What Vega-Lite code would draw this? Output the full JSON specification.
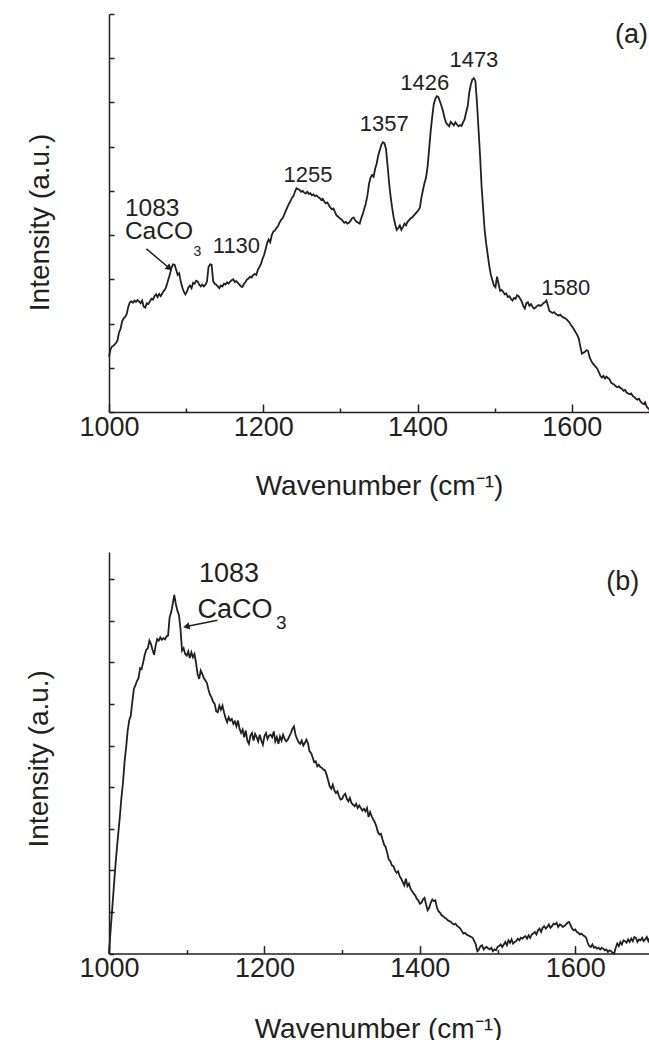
{
"$schema":"https://vega.github.io/schema/vega-lite/v6.json",
"background":"white",
"padding":{"left":25,"top":13,"right":0,"bottom":0},
"spacing":140,
"bounds":"flush",
"config":{"view":{"stroke":null},"font":"Liberation Sans",
"axis":{"grid":false,"domainColor":"#231f20","tickColor":"#231f20","labelColor":"#231f20","titleColor":"#231f20","domainWidth":1.5,"tickWidth":1.5,"labelFont":"Liberation Sans","titleFont":"Liberation Sans","titleFontWeight":"normal","labelFontSize":27,"titleFontSize":28},
"text":{"color":"#231f20","font":"Liberation Sans"}},
"datasets":{
"specA":[{"w":1000,"i":1.25},{"w":1002,"i":1.42},{"w":1004,"i":1.48},{"w":1006,"i":1.5},{"w":1009,"i":1.56},{"w":1011,"i":1.62},{"w":1013,"i":1.8},{"w":1015,"i":1.88},{"w":1017,"i":2.05},{"w":1019,"i":2.12},{"w":1021,"i":2.15},{"w":1023,"i":2.22},{"w":1025,"i":2.38},{"w":1027,"i":2.48},{"w":1029,"i":2.5},{"w":1031,"i":2.47},{"w":1033,"i":2.52},{"w":1035,"i":2.49},{"w":1037,"i":2.53},{"w":1039,"i":2.5},{"w":1041,"i":2.46},{"w":1043,"i":2.52},{"w":1045,"i":2.38},{"w":1047,"i":2.36},{"w":1049,"i":2.46},{"w":1051,"i":2.44},{"w":1053,"i":2.5},{"w":1055,"i":2.56},{"w":1057,"i":2.54},{"w":1059,"i":2.62},{"w":1061,"i":2.66},{"w":1063,"i":2.6},{"w":1065,"i":2.67},{"w":1067,"i":2.62},{"w":1069,"i":2.68},{"w":1071,"i":2.74},{"w":1073,"i":2.78},{"w":1075,"i":2.88},{"w":1077,"i":3.0},{"w":1079,"i":3.12},{"w":1081,"i":3.26},{"w":1083,"i":3.34},{"w":1085,"i":3.33},{"w":1087,"i":3.22},{"w":1089,"i":3.1},{"w":1091,"i":3.14},{"w":1093,"i":2.95},{"w":1095,"i":2.82},{"w":1097,"i":2.72},{"w":1099,"i":2.66},{"w":1101,"i":2.72},{"w":1103,"i":2.82},{"w":1105,"i":2.86},{"w":1107,"i":2.8},{"w":1109,"i":2.92},{"w":1111,"i":2.9},{"w":1113,"i":2.97},{"w":1115,"i":2.95},{"w":1117,"i":2.88},{"w":1119,"i":2.84},{"w":1121,"i":2.88},{"w":1123,"i":2.84},{"w":1125,"i":2.88},{"w":1127,"i":2.95},{"w":1129,"i":3.28},{"w":1131,"i":3.34},{"w":1133,"i":3.33},{"w":1135,"i":2.96},{"w":1137,"i":2.9},{"w":1139,"i":2.88},{"w":1141,"i":2.84},{"w":1143,"i":2.8},{"w":1145,"i":2.86},{"w":1147,"i":2.84},{"w":1149,"i":2.9},{"w":1151,"i":2.88},{"w":1153,"i":2.93},{"w":1155,"i":2.9},{"w":1157,"i":2.95},{"w":1159,"i":2.98},{"w":1161,"i":3.0},{"w":1163,"i":2.94},{"w":1165,"i":2.96},{"w":1167,"i":2.92},{"w":1169,"i":2.88},{"w":1171,"i":2.84},{"w":1173,"i":2.83},{"w":1175,"i":2.9},{"w":1177,"i":2.94},{"w":1179,"i":3.0},{"w":1181,"i":3.02},{"w":1183,"i":3.06},{"w":1185,"i":3.04},{"w":1187,"i":3.1},{"w":1189,"i":3.12},{"w":1191,"i":3.1},{"w":1193,"i":3.22},{"w":1195,"i":3.28},{"w":1197,"i":3.35},{"w":1199,"i":3.46},{"w":1201,"i":3.55},{"w":1203,"i":3.68},{"w":1205,"i":3.82},{"w":1207,"i":3.9},{"w":1209,"i":3.84},{"w":1211,"i":4.0},{"w":1213,"i":4.08},{"w":1215,"i":4.1},{"w":1217,"i":4.16},{"w":1219,"i":4.2},{"w":1221,"i":4.28},{"w":1223,"i":4.34},{"w":1225,"i":4.38},{"w":1227,"i":4.46},{"w":1229,"i":4.54},{"w":1231,"i":4.62},{"w":1233,"i":4.7},{"w":1235,"i":4.76},{"w":1237,"i":4.84},{"w":1239,"i":4.88},{"w":1241,"i":4.98},{"w":1243,"i":5.06},{"w":1245,"i":5.04},{"w":1247,"i":5.02},{"w":1249,"i":4.98},{"w":1251,"i":5.0},{"w":1253,"i":4.96},{"w":1255,"i":4.94},{"w":1257,"i":4.98},{"w":1259,"i":4.93},{"w":1261,"i":4.95},{"w":1263,"i":4.9},{"w":1265,"i":4.92},{"w":1267,"i":4.88},{"w":1269,"i":4.9},{"w":1271,"i":4.86},{"w":1273,"i":4.84},{"w":1275,"i":4.8},{"w":1277,"i":4.82},{"w":1279,"i":4.76},{"w":1281,"i":4.72},{"w":1283,"i":4.74},{"w":1285,"i":4.68},{"w":1287,"i":4.62},{"w":1289,"i":4.58},{"w":1291,"i":4.6},{"w":1293,"i":4.52},{"w":1295,"i":4.44},{"w":1297,"i":4.42},{"w":1299,"i":4.38},{"w":1301,"i":4.36},{"w":1303,"i":4.32},{"w":1305,"i":4.28},{"w":1307,"i":4.3},{"w":1309,"i":4.26},{"w":1311,"i":4.28},{"w":1313,"i":4.32},{"w":1315,"i":4.38},{"w":1317,"i":4.4},{"w":1319,"i":4.34},{"w":1321,"i":4.3},{"w":1323,"i":4.28},{"w":1325,"i":4.26},{"w":1327,"i":4.38},{"w":1329,"i":4.48},{"w":1331,"i":4.6},{"w":1333,"i":4.72},{"w":1335,"i":4.9},{"w":1337,"i":5.15},{"w":1339,"i":5.3},{"w":1341,"i":5.36},{"w":1343,"i":5.32},{"w":1345,"i":5.5},{"w":1347,"i":5.62},{"w":1349,"i":5.8},{"w":1351,"i":5.92},{"w":1353,"i":6.04},{"w":1355,"i":6.1},{"w":1357,"i":6.08},{"w":1359,"i":5.96},{"w":1361,"i":5.6},{"w":1363,"i":5.2},{"w":1365,"i":4.88},{"w":1367,"i":4.62},{"w":1369,"i":4.4},{"w":1371,"i":4.24},{"w":1373,"i":4.12},{"w":1375,"i":4.16},{"w":1377,"i":4.22},{"w":1379,"i":4.12},{"w":1381,"i":4.18},{"w":1383,"i":4.26},{"w":1385,"i":4.22},{"w":1387,"i":4.3},{"w":1389,"i":4.34},{"w":1391,"i":4.38},{"w":1393,"i":4.4},{"w":1395,"i":4.44},{"w":1397,"i":4.48},{"w":1399,"i":4.52},{"w":1401,"i":4.56},{"w":1403,"i":4.62},{"w":1405,"i":4.85},{"w":1407,"i":5.02},{"w":1409,"i":5.18},{"w":1411,"i":5.3},{"w":1413,"i":5.55},{"w":1415,"i":5.95},{"w":1417,"i":6.35},{"w":1419,"i":6.68},{"w":1421,"i":6.96},{"w":1423,"i":7.08},{"w":1425,"i":7.14},{"w":1427,"i":7.12},{"w":1429,"i":7.02},{"w":1431,"i":6.92},{"w":1433,"i":6.8},{"w":1435,"i":6.65},{"w":1437,"i":6.54},{"w":1439,"i":6.5},{"w":1441,"i":6.46},{"w":1443,"i":6.56},{"w":1445,"i":6.52},{"w":1447,"i":6.48},{"w":1449,"i":6.55},{"w":1451,"i":6.5},{"w":1453,"i":6.46},{"w":1455,"i":6.49},{"w":1457,"i":6.47},{"w":1459,"i":6.55},{"w":1461,"i":6.62},{"w":1463,"i":6.78},{"w":1465,"i":6.92},{"w":1467,"i":7.22},{"w":1469,"i":7.4},{"w":1471,"i":7.52},{"w":1473,"i":7.55},{"w":1475,"i":7.48},{"w":1477,"i":7.0},{"w":1479,"i":6.4},{"w":1481,"i":5.8},{"w":1483,"i":5.1},{"w":1485,"i":4.6},{"w":1487,"i":4.1},{"w":1489,"i":3.8},{"w":1491,"i":3.55},{"w":1493,"i":3.3},{"w":1495,"i":3.1},{"w":1497,"i":2.98},{"w":1499,"i":2.86},{"w":1501,"i":2.82},{"w":1503,"i":3.06},{"w":1505,"i":2.9},{"w":1507,"i":2.74},{"w":1509,"i":2.76},{"w":1511,"i":2.72},{"w":1513,"i":2.66},{"w":1515,"i":2.68},{"w":1517,"i":2.6},{"w":1519,"i":2.62},{"w":1521,"i":2.56},{"w":1523,"i":2.52},{"w":1525,"i":2.58},{"w":1527,"i":2.56},{"w":1529,"i":2.64},{"w":1531,"i":2.62},{"w":1533,"i":2.56},{"w":1535,"i":2.5},{"w":1537,"i":2.4},{"w":1539,"i":2.34},{"w":1541,"i":2.46},{"w":1543,"i":2.48},{"w":1545,"i":2.4},{"w":1547,"i":2.44},{"w":1549,"i":2.38},{"w":1551,"i":2.34},{"w":1553,"i":2.36},{"w":1555,"i":2.4},{"w":1557,"i":2.42},{"w":1559,"i":2.4},{"w":1561,"i":2.42},{"w":1563,"i":2.46},{"w":1565,"i":2.48},{"w":1567,"i":2.52},{"w":1569,"i":2.4},{"w":1571,"i":2.28},{"w":1573,"i":2.26},{"w":1575,"i":2.24},{"w":1577,"i":2.26},{"w":1579,"i":2.22},{"w":1581,"i":2.2},{"w":1583,"i":2.18},{"w":1585,"i":2.2},{"w":1587,"i":2.16},{"w":1589,"i":2.14},{"w":1591,"i":2.12},{"w":1593,"i":2.1},{"w":1595,"i":2.06},{"w":1597,"i":2.02},{"w":1599,"i":1.96},{"w":1601,"i":1.92},{"w":1603,"i":1.86},{"w":1605,"i":1.8},{"w":1607,"i":1.74},{"w":1609,"i":1.66},{"w":1611,"i":1.48},{"w":1613,"i":1.32},{"w":1615,"i":1.34},{"w":1617,"i":1.36},{"w":1619,"i":1.4},{"w":1621,"i":1.38},{"w":1623,"i":1.24},{"w":1625,"i":1.16},{"w":1627,"i":1.1},{"w":1629,"i":1.06},{"w":1631,"i":1.02},{"w":1633,"i":0.98},{"w":1635,"i":0.9},{"w":1637,"i":0.82},{"w":1639,"i":0.78},{"w":1641,"i":0.82},{"w":1643,"i":0.76},{"w":1645,"i":0.8},{"w":1647,"i":0.76},{"w":1649,"i":0.74},{"w":1651,"i":0.66},{"w":1653,"i":0.64},{"w":1655,"i":0.62},{"w":1657,"i":0.58},{"w":1659,"i":0.56},{"w":1661,"i":0.58},{"w":1663,"i":0.54},{"w":1665,"i":0.52},{"w":1667,"i":0.48},{"w":1669,"i":0.5},{"w":1671,"i":0.44},{"w":1673,"i":0.42},{"w":1675,"i":0.4},{"w":1677,"i":0.42},{"w":1679,"i":0.36},{"w":1681,"i":0.34},{"w":1683,"i":0.3},{"w":1685,"i":0.28},{"w":1687,"i":0.3},{"w":1689,"i":0.24},{"w":1691,"i":0.2},{"w":1693,"i":0.18},{"w":1695,"i":0.22},{"w":1697,"i":0.12},{"w":1699,"i":0.08},{"w":1700,"i":0.06}],
"specB":[{"w":1000,"i":0.0},{"w":1002,"i":0.55},{"w":1004,"i":1.04},{"w":1006,"i":1.55},{"w":1008,"i":2.05},{"w":1010,"i":2.5},{"w":1012,"i":2.9},{"w":1014,"i":3.3},{"w":1016,"i":3.75},{"w":1018,"i":4.1},{"w":1020,"i":4.6},{"w":1022,"i":4.95},{"w":1024,"i":5.35},{"w":1026,"i":5.6},{"w":1028,"i":5.72},{"w":1030,"i":6.05},{"w":1032,"i":6.36},{"w":1034,"i":6.45},{"w":1036,"i":6.55},{"w":1038,"i":6.62},{"w":1040,"i":6.86},{"w":1042,"i":6.84},{"w":1044,"i":7.0},{"w":1046,"i":7.18},{"w":1048,"i":7.3},{"w":1050,"i":7.34},{"w":1052,"i":7.52},{"w":1054,"i":7.44},{"w":1056,"i":7.3},{"w":1058,"i":7.18},{"w":1060,"i":7.4},{"w":1062,"i":7.56},{"w":1064,"i":7.52},{"w":1066,"i":7.6},{"w":1068,"i":7.54},{"w":1070,"i":7.58},{"w":1072,"i":7.55},{"w":1074,"i":7.62},{"w":1076,"i":7.64},{"w":1078,"i":8.08},{"w":1080,"i":8.2},{"w":1082,"i":8.4},{"w":1084,"i":8.62},{"w":1086,"i":8.4},{"w":1088,"i":8.24},{"w":1090,"i":8.14},{"w":1092,"i":7.8},{"w":1094,"i":7.28},{"w":1096,"i":7.34},{"w":1098,"i":7.2},{"w":1100,"i":7.16},{"w":1102,"i":7.26},{"w":1104,"i":7.1},{"w":1106,"i":7.24},{"w":1108,"i":7.12},{"w":1110,"i":7.2},{"w":1112,"i":6.98},{"w":1114,"i":6.72},{"w":1116,"i":6.6},{"w":1118,"i":6.8},{"w":1120,"i":6.72},{"w":1122,"i":6.62},{"w":1124,"i":6.56},{"w":1126,"i":6.5},{"w":1128,"i":6.34},{"w":1130,"i":6.22},{"w":1132,"i":6.15},{"w":1134,"i":6.05},{"w":1136,"i":6.0},{"w":1138,"i":5.82},{"w":1140,"i":5.8},{"w":1142,"i":5.96},{"w":1144,"i":5.86},{"w":1146,"i":5.96},{"w":1148,"i":5.8},{"w":1150,"i":5.66},{"w":1152,"i":5.56},{"w":1154,"i":5.68},{"w":1156,"i":5.6},{"w":1158,"i":5.64},{"w":1160,"i":5.52},{"w":1162,"i":5.58},{"w":1164,"i":5.46},{"w":1166,"i":5.6},{"w":1168,"i":5.4},{"w":1170,"i":5.3},{"w":1172,"i":5.38},{"w":1174,"i":5.2},{"w":1176,"i":5.36},{"w":1178,"i":5.12},{"w":1180,"i":5.04},{"w":1182,"i":5.24},{"w":1184,"i":5.3},{"w":1186,"i":5.12},{"w":1188,"i":5.28},{"w":1190,"i":5.2},{"w":1192,"i":5.1},{"w":1194,"i":5.26},{"w":1196,"i":5.12},{"w":1198,"i":5.02},{"w":1200,"i":5.22},{"w":1202,"i":5.3},{"w":1204,"i":5.16},{"w":1206,"i":5.24},{"w":1208,"i":5.26},{"w":1210,"i":5.2},{"w":1212,"i":5.34},{"w":1214,"i":5.1},{"w":1216,"i":5.2},{"w":1218,"i":5.04},{"w":1220,"i":5.22},{"w":1222,"i":5.12},{"w":1224,"i":5.26},{"w":1226,"i":5.16},{"w":1228,"i":5.1},{"w":1230,"i":5.14},{"w":1232,"i":5.22},{"w":1234,"i":5.3},{"w":1236,"i":5.4},{"w":1238,"i":5.46},{"w":1240,"i":5.26},{"w":1242,"i":5.16},{"w":1244,"i":5.08},{"w":1246,"i":5.04},{"w":1248,"i":5.12},{"w":1250,"i":5.0},{"w":1252,"i":5.06},{"w":1254,"i":5.14},{"w":1256,"i":5.06},{"w":1258,"i":4.86},{"w":1260,"i":4.82},{"w":1262,"i":4.72},{"w":1264,"i":4.6},{"w":1266,"i":4.62},{"w":1268,"i":4.5},{"w":1270,"i":4.54},{"w":1272,"i":4.48},{"w":1274,"i":4.46},{"w":1276,"i":4.42},{"w":1278,"i":4.4},{"w":1280,"i":4.3},{"w":1282,"i":4.16},{"w":1284,"i":4.02},{"w":1286,"i":3.96},{"w":1288,"i":4.06},{"w":1290,"i":3.92},{"w":1292,"i":3.86},{"w":1294,"i":3.9},{"w":1296,"i":3.78},{"w":1298,"i":3.7},{"w":1300,"i":3.72},{"w":1302,"i":3.8},{"w":1304,"i":3.84},{"w":1306,"i":3.72},{"w":1308,"i":3.66},{"w":1310,"i":3.74},{"w":1312,"i":3.62},{"w":1314,"i":3.58},{"w":1316,"i":3.54},{"w":1318,"i":3.6},{"w":1320,"i":3.5},{"w":1322,"i":3.56},{"w":1324,"i":3.5},{"w":1326,"i":3.44},{"w":1328,"i":3.48},{"w":1330,"i":3.42},{"w":1332,"i":3.5},{"w":1334,"i":3.28},{"w":1336,"i":3.4},{"w":1338,"i":3.3},{"w":1340,"i":3.22},{"w":1342,"i":3.16},{"w":1344,"i":3.06},{"w":1346,"i":2.92},{"w":1348,"i":2.86},{"w":1350,"i":2.88},{"w":1352,"i":2.74},{"w":1354,"i":2.62},{"w":1356,"i":2.56},{"w":1358,"i":2.42},{"w":1360,"i":2.26},{"w":1362,"i":2.22},{"w":1364,"i":2.12},{"w":1366,"i":2.1},{"w":1368,"i":2.0},{"w":1370,"i":1.94},{"w":1372,"i":1.98},{"w":1374,"i":1.86},{"w":1376,"i":1.8},{"w":1378,"i":1.72},{"w":1380,"i":1.64},{"w":1382,"i":1.8},{"w":1384,"i":1.62},{"w":1386,"i":1.68},{"w":1388,"i":1.56},{"w":1390,"i":1.5},{"w":1392,"i":1.44},{"w":1394,"i":1.4},{"w":1396,"i":1.32},{"w":1398,"i":1.28},{"w":1400,"i":1.2},{"w":1402,"i":1.22},{"w":1404,"i":1.3},{"w":1406,"i":1.34},{"w":1408,"i":1.18},{"w":1410,"i":1.04},{"w":1412,"i":1.1},{"w":1414,"i":1.22},{"w":1416,"i":1.3},{"w":1418,"i":1.26},{"w":1420,"i":1.28},{"w":1422,"i":1.1},{"w":1424,"i":1.02},{"w":1426,"i":0.98},{"w":1428,"i":0.92},{"w":1430,"i":0.9},{"w":1432,"i":0.86},{"w":1434,"i":0.84},{"w":1436,"i":0.8},{"w":1438,"i":0.78},{"w":1440,"i":0.76},{"w":1442,"i":0.72},{"w":1444,"i":0.7},{"w":1446,"i":0.72},{"w":1448,"i":0.66},{"w":1450,"i":0.64},{"w":1452,"i":0.6},{"w":1454,"i":0.54},{"w":1456,"i":0.48},{"w":1458,"i":0.5},{"w":1460,"i":0.46},{"w":1462,"i":0.44},{"w":1464,"i":0.42},{"w":1466,"i":0.4},{"w":1468,"i":0.38},{"w":1470,"i":0.3},{"w":1472,"i":0.22},{"w":1474,"i":0.06},{"w":1476,"i":0.1},{"w":1478,"i":0.18},{"w":1480,"i":0.2},{"w":1482,"i":0.1},{"w":1484,"i":0.14},{"w":1486,"i":0.16},{"w":1488,"i":0.12},{"w":1490,"i":0.1},{"w":1492,"i":0.14},{"w":1494,"i":0.06},{"w":1496,"i":0.1},{"w":1498,"i":0.08},{"w":1500,"i":0.16},{"w":1502,"i":0.18},{"w":1504,"i":0.22},{"w":1506,"i":0.16},{"w":1508,"i":0.22},{"w":1510,"i":0.28},{"w":1512,"i":0.2},{"w":1514,"i":0.32},{"w":1516,"i":0.26},{"w":1518,"i":0.34},{"w":1520,"i":0.24},{"w":1522,"i":0.28},{"w":1524,"i":0.3},{"w":1526,"i":0.36},{"w":1528,"i":0.32},{"w":1530,"i":0.38},{"w":1532,"i":0.36},{"w":1534,"i":0.4},{"w":1536,"i":0.42},{"w":1538,"i":0.36},{"w":1540,"i":0.44},{"w":1542,"i":0.38},{"w":1544,"i":0.46},{"w":1546,"i":0.48},{"w":1548,"i":0.52},{"w":1550,"i":0.46},{"w":1552,"i":0.56},{"w":1554,"i":0.6},{"w":1556,"i":0.52},{"w":1558,"i":0.62},{"w":1560,"i":0.66},{"w":1562,"i":0.6},{"w":1564,"i":0.64},{"w":1566,"i":0.7},{"w":1568,"i":0.62},{"w":1570,"i":0.66},{"w":1572,"i":0.72},{"w":1574,"i":0.7},{"w":1576,"i":0.74},{"w":1578,"i":0.64},{"w":1580,"i":0.7},{"w":1582,"i":0.68},{"w":1584,"i":0.64},{"w":1586,"i":0.66},{"w":1588,"i":0.7},{"w":1590,"i":0.74},{"w":1592,"i":0.76},{"w":1594,"i":0.68},{"w":1596,"i":0.6},{"w":1598,"i":0.56},{"w":1600,"i":0.58},{"w":1602,"i":0.52},{"w":1604,"i":0.5},{"w":1606,"i":0.46},{"w":1608,"i":0.48},{"w":1610,"i":0.44},{"w":1612,"i":0.42},{"w":1614,"i":0.38},{"w":1616,"i":0.26},{"w":1618,"i":0.18},{"w":1620,"i":0.16},{"w":1622,"i":0.22},{"w":1624,"i":0.14},{"w":1626,"i":0.16},{"w":1628,"i":0.12},{"w":1630,"i":0.14},{"w":1632,"i":0.1},{"w":1634,"i":0.14},{"w":1636,"i":0.12},{"w":1638,"i":0.08},{"w":1640,"i":0.1},{"w":1642,"i":0.04},{"w":1644,"i":0.08},{"w":1646,"i":0.06},{"w":1648,"i":0.02},{"w":1650,"i":0.0},{"w":1652,"i":0.14},{"w":1654,"i":0.24},{"w":1656,"i":0.18},{"w":1658,"i":0.28},{"w":1660,"i":0.22},{"w":1662,"i":0.32},{"w":1664,"i":0.3},{"w":1666,"i":0.26},{"w":1668,"i":0.34},{"w":1670,"i":0.28},{"w":1672,"i":0.36},{"w":1674,"i":0.3},{"w":1676,"i":0.4},{"w":1678,"i":0.38},{"w":1680,"i":0.28},{"w":1682,"i":0.34},{"w":1684,"i":0.32},{"w":1686,"i":0.38},{"w":1688,"i":0.3},{"w":1690,"i":0.34},{"w":1692,"i":0.4},{"w":1694,"i":0.3},{"w":1696,"i":0.38},{"w":1698,"i":0.34},{"w":1700,"i":0.4}],
"annA":[{"w":1056,"i":4.59,"t":"1083","r":"big"},{"w":1064.7,"i":4.07,"t":"CaCO","r":"big"},{"w":1114.6,"i":3.61,"t":"3","r":"sub"},{"w":1165.2,"i":3.75,"t":"1130","r":"peak"},{"w":1258,"i":5.37,"t":"1255","r":"peak"},{"w":1356.7,"i":6.51,"t":"1357","r":"peak"},{"w":1409.3,"i":7.45,"t":"1426","r":"peak"},{"w":1473,"i":7.96,"t":"1473","r":"peak"},{"w":1592,"i":2.81,"t":"1580","r":"peak"},{"w":1677.2,"i":8.53,"t":"(a)","r":"panel"}],
"annB":[{"w":1154.5,"i":9.12,"t":"1083","r":"big"},{"w":1162.1,"i":8.25,"t":"CaCO","r":"big"},{"w":1221.7,"i":7.95,"t":"3","r":"sub"},{"w":1661,"i":8.93,"t":"(b)","r":"panel"}],
"arrowA":[{"w":1048.5,"i":3.69},{"w":1078.3,"i":3.25}],
"headA":[{"w":1078.3,"i":3.25}],
"arrowB":[{"w":1139.6,"i":8.01},{"w":1099.5,"i":7.86}],
"headB":[{"w":1099.5,"i":7.86}]
},
"vconcat":[
{"width":540,"height":398,
"layer":[
{"data":{"name":"specA"},"mark":{"type":"line","color":"#231f20","strokeWidth":1.8},
"encoding":{
"x":{"field":"w","type":"quantitative","scale":{"domain":[1000,1700],"nice":false,"zero":false},
"axis":{"title":"Wavenumber (cm⁻¹)","values":[1000,1100,1200,1300,1400,1500,1600,1700],"format":"d","labelExpr":"datum.value % 200 === 0 ? datum.label : ''","tickSize":{"condition":{"test":"datum.value % 200 === 0","value":-8},"value":-4},"labelBaseline":"alphabetic","labelPadding":31,"labelFlush":false,"labelOverlap":false,"titleBaseline":"alphabetic","titleX":270,"titleY":82}},
"y":{"field":"i","type":"quantitative","scale":{"domain":[0,9],"nice":false,"zero":false},
"axis":{"title":"Intensity (a.u.)","values":[0,1,2,3,4,5,6,7,8,9],"labels":false,"tickSize":-5,"titleAngle":270,"titleBaseline":"alphabetic","titleAlign":"center","titleX":-61,"titleY":208}}}},
{"data":{"name":"annA"},"transform":[{"filter":"datum.r === 'peak'"}],"mark":{"type":"text","fontSize":22,"align":"center","baseline":"middle"},"encoding":{"x":{"field":"w","type":"quantitative"},"y":{"field":"i","type":"quantitative"},"text":{"field":"t"}}},
{"data":{"name":"annA"},"transform":[{"filter":"datum.r === 'big'"}],"mark":{"type":"text","fontSize":24.5,"align":"center","baseline":"middle"},"encoding":{"x":{"field":"w","type":"quantitative"},"y":{"field":"i","type":"quantitative"},"text":{"field":"t"}}},
{"data":{"name":"annA"},"transform":[{"filter":"datum.r === 'sub'"}],"mark":{"type":"text","fontSize":14,"align":"center","baseline":"middle"},"encoding":{"x":{"field":"w","type":"quantitative"},"y":{"field":"i","type":"quantitative"},"text":{"field":"t"}}},
{"data":{"name":"annA"},"transform":[{"filter":"datum.r === 'panel'"}],"mark":{"type":"text","fontSize":27,"align":"center","baseline":"middle"},"encoding":{"x":{"field":"w","type":"quantitative"},"y":{"field":"i","type":"quantitative"},"text":{"field":"t"}}},
{"data":{"name":"arrowA"},"mark":{"type":"line","color":"#231f20","strokeWidth":1.5},"encoding":{"x":{"field":"w","type":"quantitative"},"y":{"field":"i","type":"quantitative"}}},
{"data":{"name":"headA"},"mark":{"type":"point","shape":"triangle-right","filled":true,"size":55,"angle":40.7,"color":"#231f20","opacity":1},"encoding":{"x":{"field":"w","type":"quantitative"},"y":{"field":"i","type":"quantitative"}}}
]},
{"width":544,"height":401.6,
"layer":[
{"data":{"name":"specB"},"mark":{"type":"line","color":"#231f20","strokeWidth":1.8},
"encoding":{
"x":{"field":"w","type":"quantitative","scale":{"domain":[1000,1700],"nice":false,"zero":false},
"axis":{"title":"Wavenumber (cm⁻¹)","values":[1000,1100,1200,1300,1400,1500,1600,1700],"format":"d","labelExpr":"datum.value % 200 === 0 ? datum.label : ''","tickSize":{"condition":{"test":"datum.value % 200 === 0","value":-8},"value":-4},"labelBaseline":"alphabetic","labelPadding":31,"labelFlush":false,"labelOverlap":false,"titleBaseline":"alphabetic","titleX":269,"titleY":83.5}},
"y":{"field":"i","type":"quantitative","scale":{"domain":[0,9.65],"nice":false,"zero":false},
"axis":{"title":"Intensity (a.u.)","values":[0,1,2,3,4,5,6,7,8,9],"labels":false,"tickSize":-5,"titleAngle":270,"titleBaseline":"alphabetic","titleAlign":"center","titleX":-61.6,"titleY":206.3}}}},
{"data":{"name":"annB"},"transform":[{"filter":"datum.r === 'big'"}],"mark":{"type":"text","fontSize":27,"align":"center","baseline":"middle"},"encoding":{"x":{"field":"w","type":"quantitative"},"y":{"field":"i","type":"quantitative"},"text":{"field":"t"}}},
{"data":{"name":"annB"},"transform":[{"filter":"datum.r === 'sub'"}],"mark":{"type":"text","fontSize":19,"align":"center","baseline":"middle"},"encoding":{"x":{"field":"w","type":"quantitative"},"y":{"field":"i","type":"quantitative"},"text":{"field":"t"}}},
{"data":{"name":"annB"},"transform":[{"filter":"datum.r === 'panel'"}],"mark":{"type":"text","fontSize":27,"align":"center","baseline":"middle"},"encoding":{"x":{"field":"w","type":"quantitative"},"y":{"field":"i","type":"quantitative"},"text":{"field":"t"}}},
{"data":{"name":"arrowB"},"mark":{"type":"line","color":"#231f20","strokeWidth":1.5},"encoding":{"x":{"field":"w","type":"quantitative"},"y":{"field":"i","type":"quantitative"}}},
{"data":{"name":"headB"},"mark":{"type":"point","shape":"triangle-right","filled":true,"size":55,"angle":168,"color":"#231f20","opacity":1},"encoding":{"x":{"field":"w","type":"quantitative"},"y":{"field":"i","type":"quantitative"}}}
]}
]
}
